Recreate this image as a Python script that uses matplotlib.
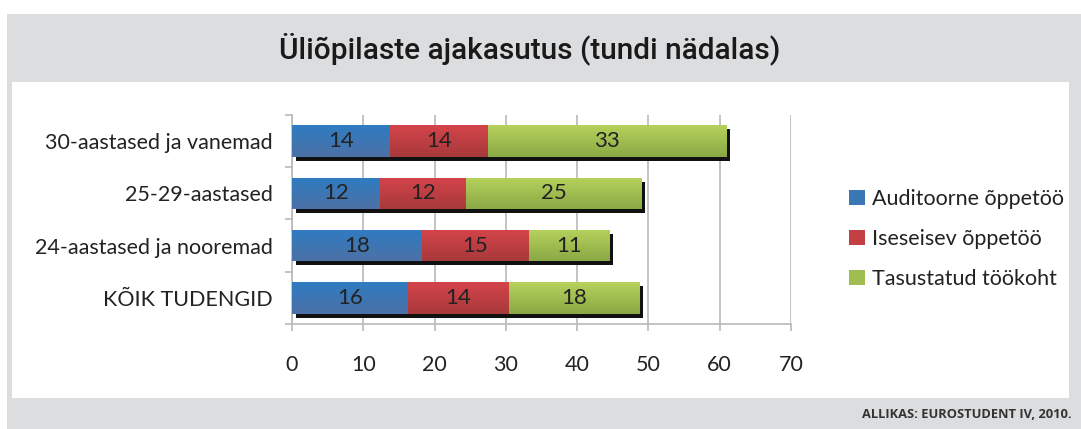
import matplotlib
matplotlib.use("Agg")
import matplotlib.pyplot as plt
from matplotlib.patches import Rectangle
from matplotlib.colors import LinearSegmentedColormap
import matplotlib.transforms as mtransforms
import numpy as np

# ---- data ----
categories = ["30-aastased ja vanemad", "25-29-aastased", "24-aastased ja nooremad", "KÕIK TUDENGID"]
auditoorne = [13.7, 12.3, 18.2, 16.3]
iseseisev = [13.8, 12.1, 15.0, 14.1]
tasustatud = [33.4, 24.6, 11.3, 18.3]
labels_aud = [14, 12, 18, 16]
labels_ise = [14, 12, 15, 14]
labels_tas = [33, 25, 11, 18]
series_names = ["Auditoorne õppetöö", "Iseseisev õppetöö", "Tasustatud töökoht"]
xticks = [0, 10, 20, 30, 40, 50, 60, 70]
title = "Üliõpilaste ajakasutus (tundi nädalas)"
source = "ALLIKAS: EUROSTUDENT IV, 2010."

W, H = 1081, 429
DPI = 100
fig = plt.figure(figsize=(W / DPI, H / DPI), dpi=DPI)
fig.patch.set_facecolor("white")

FONT = ["Lato", "DejaVu Sans"]
GRAY = "#dcdddf"


def px_rect(x0, y0, x1, y1, z, **kw):
    r = Rectangle((x0 / W, 1 - y1 / H), (x1 - x0) / W, (y1 - y0) / H,
                  transform=fig.transFigure, zorder=z, **kw)
    fig.add_artist(r)
    return r


# background frame
px_rect(7, 14, W, H, -3, facecolor=GRAY, edgecolor="none")
px_rect(12, 82, 1069, 398, -2, facecolor="white", edgecolor="none")

fig.text(530 / W, 1 - 49 / H, title, ha="center", va="center",
         fontsize=21.5, fontweight="medium", family=["Roboto", "DejaVu Sans"], color="#1a1a1a")
fig.text(1072 / W, 1 - 414 / H, source, ha="right", va="center",
         fontsize=9.3, fontweight="bold", family=["Open Sans", "DejaVu Sans"], color="#333333")

# axes
x0p, x1p, y0p, y1p = 292, 791, 115, 324
ax = fig.add_axes([x0p / W, 1 - y1p / H, (x1p - x0p) / W, (y1p - y0p) / H])
ax.set_zorder(2)
ax.set_facecolor("none")

ypos = np.arange(len(categories))[::-1]
bh = 0.6

cols_top = ["#2f7cc2", "#d4444a", "#b6d25c"]
cols_bot = ["#4c71a6", "#a8393b", "#8aa845"]

data = [auditoorne, iseseisev, tasustatud]
labs = [labels_aud, labels_ise, labels_tas]
totals = np.sum(np.array(data), axis=0)

# shadow
shadow_tr = mtransforms.offset_copy(ax.transData, fig=fig, x=4, y=-4, units="dots")
ax.barh(ypos, totals, height=bh, left=0, color="#111111", transform=shadow_tr, zorder=2)

left = np.zeros(len(categories))
for s, vals in enumerate(data):
    bars = ax.barh(ypos, vals, height=bh, left=left, color=cols_top[s], zorder=3)
    cmap = LinearSegmentedColormap.from_list("g%d" % s, [cols_bot[s], cols_top[s]])
    grad = np.linspace(0, 1, 64).reshape(-1, 1)
    for b, v, l, y, lab in zip(bars, vals, left, ypos, labs[s]):
        im = ax.imshow(grad, cmap=cmap, aspect="auto", origin="lower",
                       extent=[l, l + v, y - bh / 2, y + bh / 2], zorder=3.5)
        im.set_clip_path(b)
        ax.text(l + v / 2, y, str(lab), ha="center", va="center", fontsize=16,
                family=FONT, color="#222222", zorder=5)
    left = left + np.array(vals)

ax.set_xlim(0, 70)
ax.set_ylim(-0.5, 3.5)

# grid and spines
ax.set_xticks(xticks)
ax.xaxis.grid(True, color="#b9b9b9", linewidth=1.2, zorder=0)
ax.set_axisbelow(True)
for sp in ["top", "right"]:
    ax.spines[sp].set_visible(False)
ax.spines["left"].set_color("#b9b9b9")
ax.spines["bottom"].set_color("#b9b9b9")
ax.spines["left"].set_linewidth(1.2)
ax.spines["bottom"].set_linewidth(1.2)

ax.set_yticks(ypos)
ax.set_yticklabels(categories, family=FONT, fontsize=15.5, color="#222222")
ax.set_yticks(np.arange(-0.5, 4.0, 1.0), minor=True)
ax.tick_params(axis="y", which="major", length=0, pad=14)
ax.tick_params(axis="y", which="minor", length=5, color="#b9b9b9", width=1.2)
ax.tick_params(axis="x", which="major", length=5, color="#b9b9b9", width=1.2, pad=17,
               labelsize=15.5, labelcolor="#222222")
for t in ax.get_xticklabels():
    t.set_family(FONT)

# legend
handles = [Rectangle((0, 0), 1, 1, facecolor=c) for c in ["#3a77b6", "#c23f43", "#9fbd50"]]
leg = fig.legend(handles, series_names, loc="center left",
                 bbox_to_anchor=(830 / W, 1 - 239 / H), frameon=False,
                 prop={"family": FONT, "size": 15.5}, handlelength=0.72, handleheight=0.72,
                 handletextpad=0.35, labelspacing=0.93, labelcolor="#222222")

fig.savefig("out.png", dpi=DPI)
